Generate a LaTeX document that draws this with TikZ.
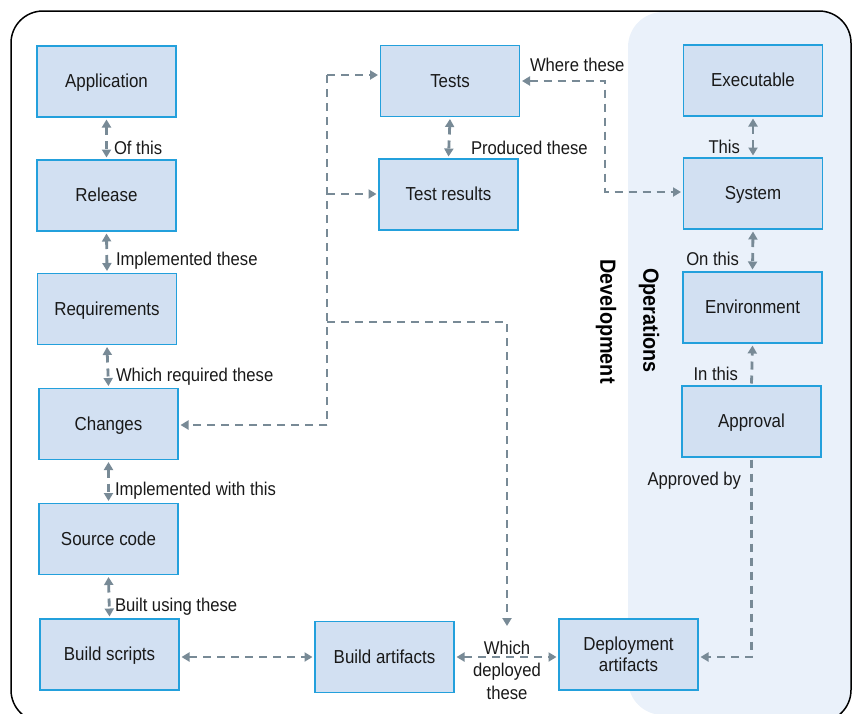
\documentclass[tikz,border=0pt]{standalone}
\usepackage{fontspec}
\setmainfont[FakeStretch=0.9]{Liberation Sans}
\usetikzlibrary{arrows.meta}
\definecolor{boxfill}{RGB}{210,224,242}
\definecolor{boxline}{RGB}{35,160,220}
\definecolor{panelfill}{RGB}{234,241,250}
\definecolor{connc}{RGB}{120,138,150}
\definecolor{txt}{RGB}{25,25,25}
\begin{document}
\begin{tikzpicture}[x=1pt,y=-1pt,
  stepbox/.style={draw=boxline,fill=boxfill,line width=1.6pt,minimum width=139pt,minimum height=71pt,
    inner sep=0pt,outer sep=2.5pt,align=center,text=txt,font=\fontsize{18.8}{21.5}\selectfont},
  onebox/.style={stepbox,text height=16pt,text depth=4pt},
  lbl/.style={inner sep=0pt,outer sep=0pt,text=txt,font=\fontsize{18.5}{22.5}\selectfont},
  side/.style={inner sep=0pt,rotate=-90,text=black,font=\bfseries\fontsize{22}{24}\selectfont},
  conn/.style={draw=connc,line width=2.8pt,dash pattern=on 8pt off 6pt,
    arrows={-}, >={Triangle[length=8pt,width=9pt]}}
]
\useasboundingbox (0,0) rectangle (855,713);
% operations panel
\begin{scope}
  \clip[rounded corners=32pt] (11,11) rectangle (851,722);
  \fill[panelfill,rounded corners=35pt] (628,12) rectangle (900,715);
\end{scope}
% frame
\draw[black,line width=1.5pt,rounded corners=32pt] (11,11) rectangle (851,722);

% boxes
\node[onebox] (app) at (106.5,81.5) {Application};
\node[onebox] (rel) at (106.5,195.5) {Release};
\node[onebox] (req) at (107,309) {Requirements};
\node[onebox] (chg) at (108.5,424) {Changes};
\node[onebox] (src) at (108.5,539) {Source code};
\node[onebox] (bsc) at (109.5,654.5) {Build scripts};
\node[onebox] (tests) at (450,81) {Tests};
\node[onebox] (tres) at (448.5,194.5) {Test results};
\node[onebox] (exe) at (753,80.5) {Executable};
\node[onebox] (sys) at (753,193.5) {System};
\node[onebox] (env) at (752.5,307.5) {Environment};
\node[onebox] (appr) at (751.5,421.5) {Approval};
\node[onebox] (bart) at (384.5,657) {Build artifacts};
\node[stepbox] (dart) at (628.5,654.5) {Deployment\\artifacts};

% side titles
\node[side] (ops) at (649,320.5) {Operations};
\node[side] (dev) at (606,321.5) {Development};

% helper coordinates
\coordinate (t1) at (327,75);
\coordinate (t2) at (327,194);
\coordinate (t3) at (327,322);
\coordinate (t4) at (327,425);
\coordinate (t5) at (507,322);
\coordinate (d1) at (507,626);
\coordinate (w1) at (605,192);
\coordinate (w2) at (605,81);
\coordinate (a1) at (751.5,657);

% left column connectors
\draw[conn,<->] (app.south) -- (rel.north);
\draw[conn,<->] (rel.south) -- (req.north);
\draw[conn,<->] (req.south) -- (chg.north);
\draw[conn,<->] (chg.south) -- (src.north);
\draw[conn,<->] (src.south) -- (bsc.north);
% bottom row
\draw[conn,<->] (bsc.east |- bart.west) -- (bart.west);
\draw[conn,<->] (bart.east) -- (dart.west |- bart.east);
% trunk
\draw[conn] (t1) -- (t4);
\draw[conn,->] (t4) -- (chg.east |- t4);
\draw[conn,->] (t1) -- (tests.west |- t1);
\draw[conn,->] (t2) -- (tres.west |- t2);
\draw[conn,->] (t3) -- (t5) -- (d1);
% tests
\draw[conn,<->] (tests.south) -- (tres.north);
\draw[conn,<->] (tests.east |- w2) -- (w2) -- (w1) -- (sys.west |- w1);
% right column
\draw[conn,<->] (exe.south) -- (sys.north);
\draw[conn,<->] (sys.south) -- (env.north);
\draw[conn,->] (appr.north) -- (env.south);
\draw[conn,->] (appr.south) -- (a1) -- (dart.east |- a1);

% labels
\node[lbl,anchor=west] (l1) at (114,148) {Of this};
\node[lbl,anchor=west] (l2) at (116,261) {Implemented these};
\node[lbl,anchor=west] (l3) at (116,377) {Which required these};
\node[lbl,anchor=west] (l4) at (115,491) {Implemented with this};
\node[lbl,anchor=west] (l5) at (115,607) {Built using these};
\node[lbl,anchor=west] (l6) at (471,148) {Produced these};
\node[lbl,anchor=west] (l7) at (530,65) {Where these};
\node[lbl,anchor=east] (l8) at (740,147) {This};
\node[lbl,anchor=east] (l9) at (739,259) {On this};
\node[lbl,anchor=east] (l10) at (738,374) {In this};
\node[lbl,anchor=east] (l11) at (741,481) {Approved by};
\node[lbl,align=center] (l12) at (507,670) {Which\\deployed\\these};
\end{tikzpicture}
\end{document}
